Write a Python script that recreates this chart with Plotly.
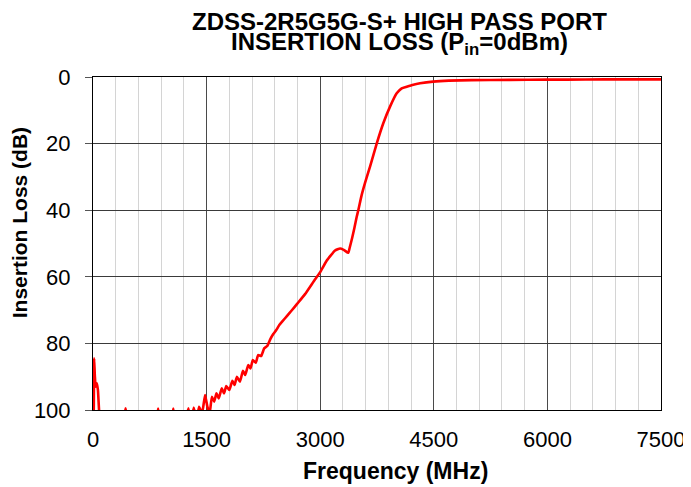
import plotly.graph_objects as go

# Frequency (MHz) and insertion loss (dB)
freq_mhz = [0, 10, 15, 25, 35, 50, 65, 80, 100, 400, 430, 460, 840, 860, 880,
            1040, 1060, 1080, 1200, 1260, 1290, 1330, 1370, 1400, 1440, 1480, 1510,
            1540, 1570, 1600, 1630, 1660, 1700, 1730, 1760, 1800, 1840, 1870, 1900,
            1940, 1980, 2010, 2050, 2080, 2110, 2150, 2180, 2220, 2260, 2300, 2340,
            2380, 2420, 2460, 2500, 2560, 2620, 2700, 2800, 2931, 3000, 3085, 3196,
            3262, 3310, 3371, 3390, 3420, 3450, 3480, 3503, 3548, 3592, 3658,
            3746, 3833, 3922, 4010, 4076, 4142, 4230, 4318, 4490, 4700, 5000,
            5500, 6000, 6500, 7000, 7500]
loss_db = [104, 100, 84.5, 90, 93, 92, 94, 100, 104, 104, 99.5, 104, 104, 99.6, 104,
           104, 99.6, 104, 105, 99.5, 104, 99.3, 103, 99, 101, 95.5, 99,
           101, 96, 97.5, 95, 96.5, 93.5, 95, 92.8, 94, 91.2, 92.5, 90,
           91.5, 88.2, 89.5, 86.5, 87.5, 85, 85.8, 83.5, 83.8, 81.5, 80.8, 78.8,
           77.2, 76, 74.5, 73.4, 71.8, 70.2, 68, 65.2, 60.8, 58.6, 55.2, 52.1,
           51.5, 51.9, 52.8, 51.2, 48.5, 45.5, 42.2, 40, 35.4, 31.8, 26.9,
           20, 13.9, 8.9, 4.9, 3.4, 2.9, 2.3, 1.9, 1.4, 1.1, 0.95,
           0.85, 0.8, 0.75, 0.7, 0.7]

x_ticks = [0, 1500, 3000, 4500, 6000, 7500]
y_ticks = [0, 20, 40, 60, 80, 100]

title_line1 = "ZDSS-2R5G5G-S+ HIGH PASS PORT"
title_line2 = "INSERTION LOSS (P<sub>in</sub>=0dBm)"
x_title = "Frequency (MHz)"
y_title = "Insertion Loss (dB)"

FONT = "Liberation Sans, Arial, sans-serif"

fig = go.Figure()
fig.add_trace(go.Scatter(
    x=freq_mhz, y=loss_db, mode="lines",
    line=dict(color="#ff0000", width=2.6, shape="spline", smoothing=0.4),
    showlegend=False, cliponaxis=True,
))

# page body adds an 8px offset, so the figure is 8px smaller and shifted
fig.update_layout(
    width=683, height=479,
    margin=dict(l=85, r=30, t=69, b=77, autoexpand=False),
    paper_bgcolor="white", plot_bgcolor="white",
    font=dict(family=FONT, color="black"),
)

bold = dict(family=FONT, color="black", weight="bold")
fig.add_annotation(text=title_line1, xref="paper", yref="paper",
                   x=0.5396, y=1.166, xanchor="center", yanchor="middle",
                   showarrow=False, font=dict(bold, size=24))
fig.add_annotation(text=title_line2, xref="paper", yref="paper",
                   x=0.5396, y=1.102, xanchor="center", yanchor="middle",
                   showarrow=False, font=dict(bold, size=24))
fig.add_annotation(text=x_title, xref="paper", yref="paper",
                   x=0.5317, y=-0.182, xanchor="center", yanchor="middle",
                   showarrow=False, font=dict(bold, size=23))
fig.add_annotation(text=y_title, xref="paper", yref="paper", textangle=-90,
                   x=-0.129, y=0.563, xanchor="center", yanchor="middle",
                   showarrow=False, font=dict(bold, size=21))

fig.update_xaxes(
    range=[0, 7500], tickvals=x_ticks, ticktext=[str(v) for v in x_ticks],
    tickfont=dict(size=22), ticks="", ticklabelstandoff=10,
    showgrid=True, gridcolor="#4a4a4a", gridwidth=1,
    minor=dict(dtick=300, tick0=0, showgrid=True, gridcolor="#d4d4d4", gridwidth=1),
    showline=True, linecolor="black", linewidth=1, mirror=True,
    zeroline=False, automargin=False,
)
fig.update_yaxes(
    range=[100, 0], tickvals=y_ticks, ticktext=[str(v) for v in y_ticks],
    tickfont=dict(size=22), ticks="outside", ticklen=7, tickcolor="#555555",
    ticklabelstandoff=10,
    showgrid=True, gridcolor="#3a3a3a", gridwidth=1,
    showline=True, linecolor="black", linewidth=1, mirror=True,
    zeroline=False, automargin=False,
)

fig.write_html("out.html")
